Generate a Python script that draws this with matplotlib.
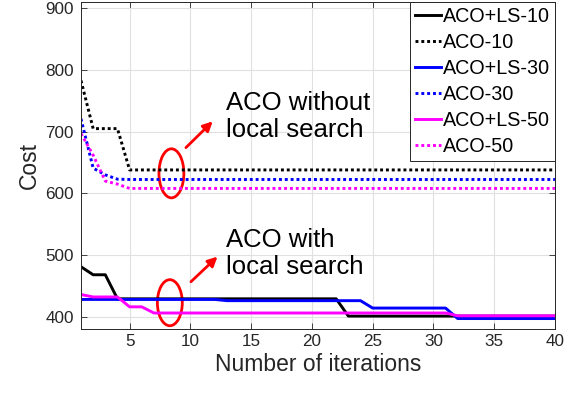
import matplotlib
matplotlib.use("Agg")
import matplotlib.pyplot as plt
from matplotlib.patches import Ellipse

plt.rcParams["font.family"] = ["Liberation Sans", "DejaVu Sans"]

# datos (iteraciones 1..40)
iters = list(range(1, 41))
aco_ls_10 = [481, 468, 468] + [429] * 19 + [401] * 18
aco_10 = [783, 705, 705, 705] + [638] * 36
aco_ls_30 = [428] * 12 + [426] * 12 + [414] * 7 + [397] * 9
aco_30 = [721, 641, 630, 623] + [622.5] * 36
aco_ls_50 = [436, 432, 432, 432, 416, 416] + [406] * 25 + [401.5] * 9
aco_50 = [697, 662, 620, 615] + [608] * 36

series = [
    ("ACO+LS-10", aco_ls_10, "k", "-"),
    ("ACO-10", aco_10, "k", ":"),
    ("ACO+LS-30", aco_ls_30, "#0000ff", "-"),
    ("ACO-30", aco_30, "#0000ff", ":"),
    ("ACO+LS-50", aco_ls_50, "#ff00ff", "-"),
    ("ACO-50", aco_50, "#ff00ff", ":"),
]

fig = plt.figure(figsize=(5.68, 3.95), dpi=100)
ax = fig.add_axes([0.1426, 0.167, 0.977 - 0.1426, 0.996 - 0.167])

for label, vals, color, ls in series:
    if ls == ":":
        ax.plot(iters, vals, color=color, lw=2.1, linestyle=(0, (1, 1)), label=label)
    else:
        ax.plot(iters, vals, color=color, lw=2.1, label=label)

ax.set_xlim(1, 40)
ax.set_ylim(380, 911)
ax.set_xticks(range(5, 41, 5))
ax.set_yticks(range(400, 901, 100))
ax.grid(True, color="#e0e0e0", lw=0.8)
ax.set_axisbelow(True)

ax.tick_params(direction="in", top=True, right=True, labelsize=12.3,
               colors="#262626", length=4, width=0.6)
ax.tick_params(axis="y", pad=5)
for sp in ax.spines.values():
    sp.set_color("#262626")
    sp.set_linewidth(0.7)

ax.set_xlabel("Number of iterations", fontsize=16.5, color="#262626", labelpad=3)
ax.set_ylabel("Cost", fontsize=16.5, color="#262626", labelpad=3)

leg = ax.legend(loc="upper right", bbox_to_anchor=(1.0, 1.0), borderaxespad=0,
                fontsize=14.2, fancybox=False, framealpha=1, edgecolor="#262626",
                handlelength=1.3, handletextpad=0.1, labelspacing=0.36,
                borderpad=0.25)
leg.get_frame().set_linewidth(0.7)

# anotaciones
ax.add_patch(Ellipse((8.44, 632.5), 2.05, 79.5, fill=False, ec="red", lw=2))
ax.add_patch(Ellipse((8.31, 422.7), 2.05, 74.7, fill=False, ec="red", lw=2))
ax.annotate("", xy=(12.0, 720), xytext=(9.47, 671),
            arrowprops=dict(arrowstyle="-|>", color="red", lw=2, mutation_scale=14))
ax.annotate("", xy=(12.4, 500.5), xytext=(9.88, 453.6),
            arrowprops=dict(arrowstyle="-|>", color="red", lw=2, mutation_scale=14))
ax.text(12.9, 724.6, "ACO without\nlocal search", fontsize=18.5, va="center", ha="left")
ax.text(12.9, 502.5, "ACO with\nlocal search", fontsize=18.5, va="center", ha="left")

fig.savefig("out.png", dpi=100)
